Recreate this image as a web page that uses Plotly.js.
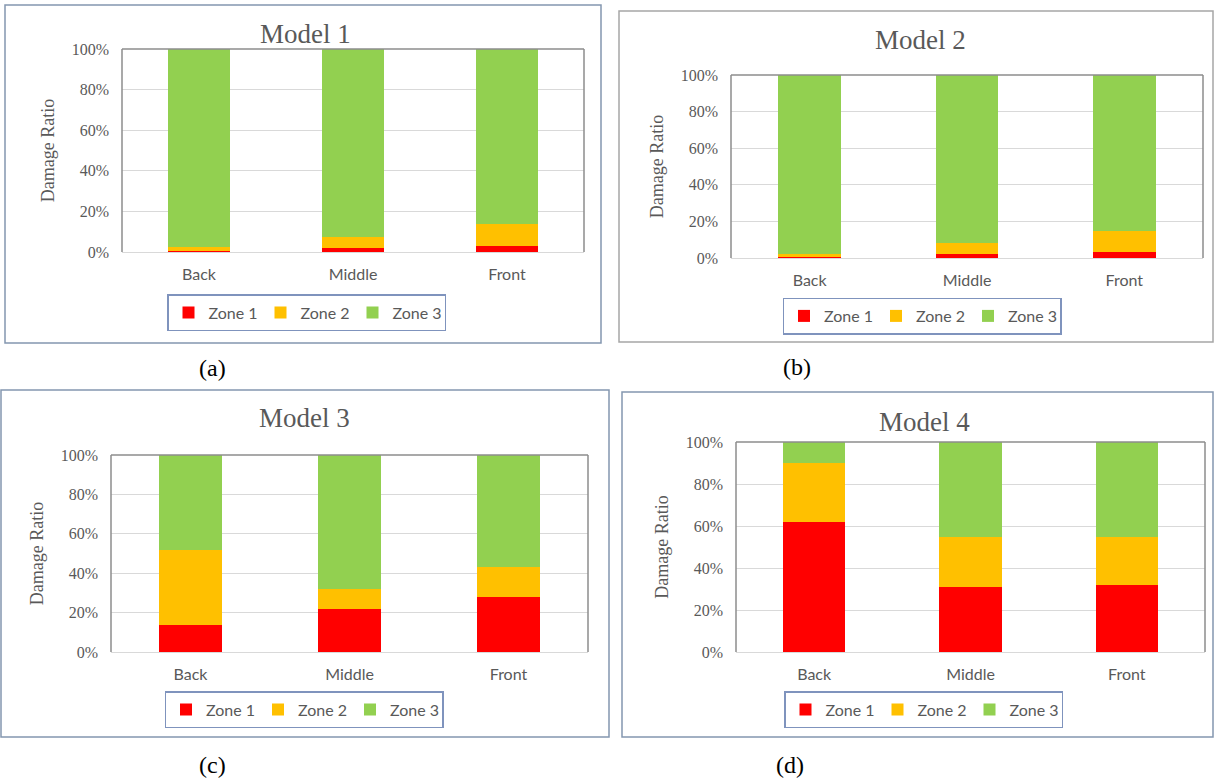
<!DOCTYPE html>
<html><head><meta charset="utf-8">
<script src="https://cdn.plot.ly/plotly-3.0.1.min.js"></script>
<style>html,body{margin:0;padding:0;background:#fff}#chart{width:1215px;height:780px}</style>
</head><body><div id="chart"></div>
<script>
const categories = ['Back', 'Middle', 'Front'];
const zoneNames = ['Zone 1', 'Zone 2', 'Zone 3'];
const modelTitles = ['Model 1', 'Model 2', 'Model 3', 'Model 4'];
const panelLabels = ['(a)', '(b)', '(c)', '(d)'];
const yTickValues = [0, 20, 40, 60, 80, 100];
const yTickLabels = ['0%', '20%', '40%', '60%', '80%', '100%'];

const model1Zone1 = [0.3, 1.8, 3.0];
const model1Zone2 = [2.0, 5.5, 11.0];
const model1Zone3 = [97.7, 92.7, 86.0];
const model2Zone1 = [0.5, 2.4, 3.5];
const model2Zone2 = [1.5, 5.8, 11.5];
const model2Zone3 = [98.0, 91.8, 85.0];
const model3Zone1 = [13.5, 22.0, 28.0];
const model3Zone2 = [38.5, 10.0, 15.0];
const model3Zone3 = [48.0, 68.0, 57.0];
const model4Zone1 = [62.0, 31.0, 32.0];
const model4Zone2 = [28.0, 24.0, 23.0];
const model4Zone3 = [10.0, 45.0, 45.0];

const modelData = [
  [model1Zone1, model1Zone2, model1Zone3],
  [model2Zone1, model2Zone2, model2Zone3],
  [model3Zone1, model3Zone2, model3Zone3],
  [model4Zone1, model4Zone2, model4Zone3]
];
const zoneColors = ['#FF0000', '#FFC000', '#92D050'];

// Layout geometry in pixels (left, right, top, bottom)
const W = 1215, H = 780;
const panels = [
  {plot: [122, 584, 49, 252], box: [5, 601, 5, 343], title: [306, 34], legend: [306.5, 312.5], label: [212, 368]},
  {plot: [731, 1203, 75, 258], box: [619, 1213, 11, 342], title: [921, 40], legend: [922, 316], label: [797, 367]},
  {plot: [111, 588, 455, 652], box: [1, 609, 390, 737], title: [304, 418], legend: [304, 709.5], label: [212, 765]},
  {plot: [736, 1205, 442, 652], box: [622, 1213, 392, 737], title: [924, 422], legend: [923.5, 709.5], label: [790, 765]}
];
const px = v => v / W;
const py = v => 1 - v / H;

const traces = [];
const layout = {
  width: W, height: H,
  margin: {l: 0, r: 0, t: 0, b: 0},
  paper_bgcolor: '#fff', plot_bgcolor: '#fff',
  barmode: 'stack', bargap: 0.6,
  showlegend: true,
  shapes: [], annotations: []
};

panels.forEach((p, i) => {
  const n = i === 0 ? '' : String(i + 1);
  const xa = 'x' + n, ya = 'y' + n;
  const lg = 'legend' + n;
  modelData[i].forEach((vals, z) => {
    traces.push({
      type: 'bar', x: categories, y: vals, name: zoneNames[z],
      xaxis: xa, yaxis: ya, legend: lg,
      marker: {color: zoneColors[z], line: {width: 0}},
      hovertemplate: '%{x}: %{y}%<extra>' + zoneNames[z] + '</extra>'
    });
  });
  layout['xaxis' + n] = {
    domain: [px(p.plot[0]), px(p.plot[1])], anchor: ya,
    showline: false, ticks: '', showgrid: false, zeroline: false,
    ticklabelstandoff: 11,
    tickfont: {family: 'Lato', size: 16, color: '#595959'},
    fixedrange: true
  };
  layout['yaxis' + n] = {
    domain: [py(p.plot[3]), py(p.plot[2])], anchor: xa,
    range: [0, 100], tickvals: yTickValues, ticktext: yTickLabels,
    showgrid: true, gridcolor: '#D9D9D9', gridwidth: 1,
    zeroline: true, zerolinecolor: '#D9D9D9', zerolinewidth: 1,
    showline: false, ticks: '', ticklabelstandoff: 12,
    tickfont: {family: 'Liberation Serif', size: 16, color: '#595959'},
    title: {text: 'Damage Ratio', standoff: 12, font: {family: 'Liberation Serif', size: 18, color: '#595959'}},
    fixedrange: true
  };
  layout[lg] = {
    orientation: 'h', x: px(p.legend[0]), xanchor: 'center',
    y: py(p.legend[1]), yanchor: 'middle',
    bordercolor: '#7F93BD', borderwidth: 1.5, bgcolor: '#fff',
    font: {family: 'Lato', size: 16, color: '#595959'},
    traceorder: 'normal', itemwidth: 30, entrywidth: 47
  };
  // plot-area frame: left, top, right
  const frame = {color: '#8C8C8C', width: 1.5};
  layout.shapes.push(
    {type: 'line', xref: xa + ' domain', yref: ya + ' domain', x0: 0, x1: 0, y0: 0, y1: 1, line: frame},
    {type: 'line', xref: xa + ' domain', yref: ya + ' domain', x0: 0, x1: 1, y0: 1, y1: 1, line: frame},
    {type: 'line', xref: xa + ' domain', yref: ya + ' domain', x0: 1, x1: 1, y0: 0, y1: 1, line: frame}
  );
  // panel border
  layout.shapes.push({
    type: 'rect', xref: 'paper', yref: 'paper',
    x0: px(p.box[0]), x1: px(p.box[1]), y0: py(p.box[3]), y1: py(p.box[2]),
    line: {color: i === 1 ? '#A6A6A6' : '#8497B0', width: 1.5}
  });
  layout.annotations.push({
    text: modelTitles[i], xref: 'paper', yref: 'paper',
    x: px(p.title[0]), y: py(p.title[1]), xanchor: 'center', yanchor: 'middle',
    showarrow: false, font: {family: 'Liberation Serif', size: 27, color: '#595959'}
  });
  layout.annotations.push({
    text: panelLabels[i], xref: 'paper', yref: 'paper',
    x: px(p.label[0]), y: py(p.label[1]), xanchor: 'center', yanchor: 'middle',
    showarrow: false, font: {family: 'Liberation Serif', size: 24, color: '#000'}
  });
});

Plotly.newPlot('chart', traces, layout, {displayModeBar: false, staticPlot: false});
</script>
</body></html>
